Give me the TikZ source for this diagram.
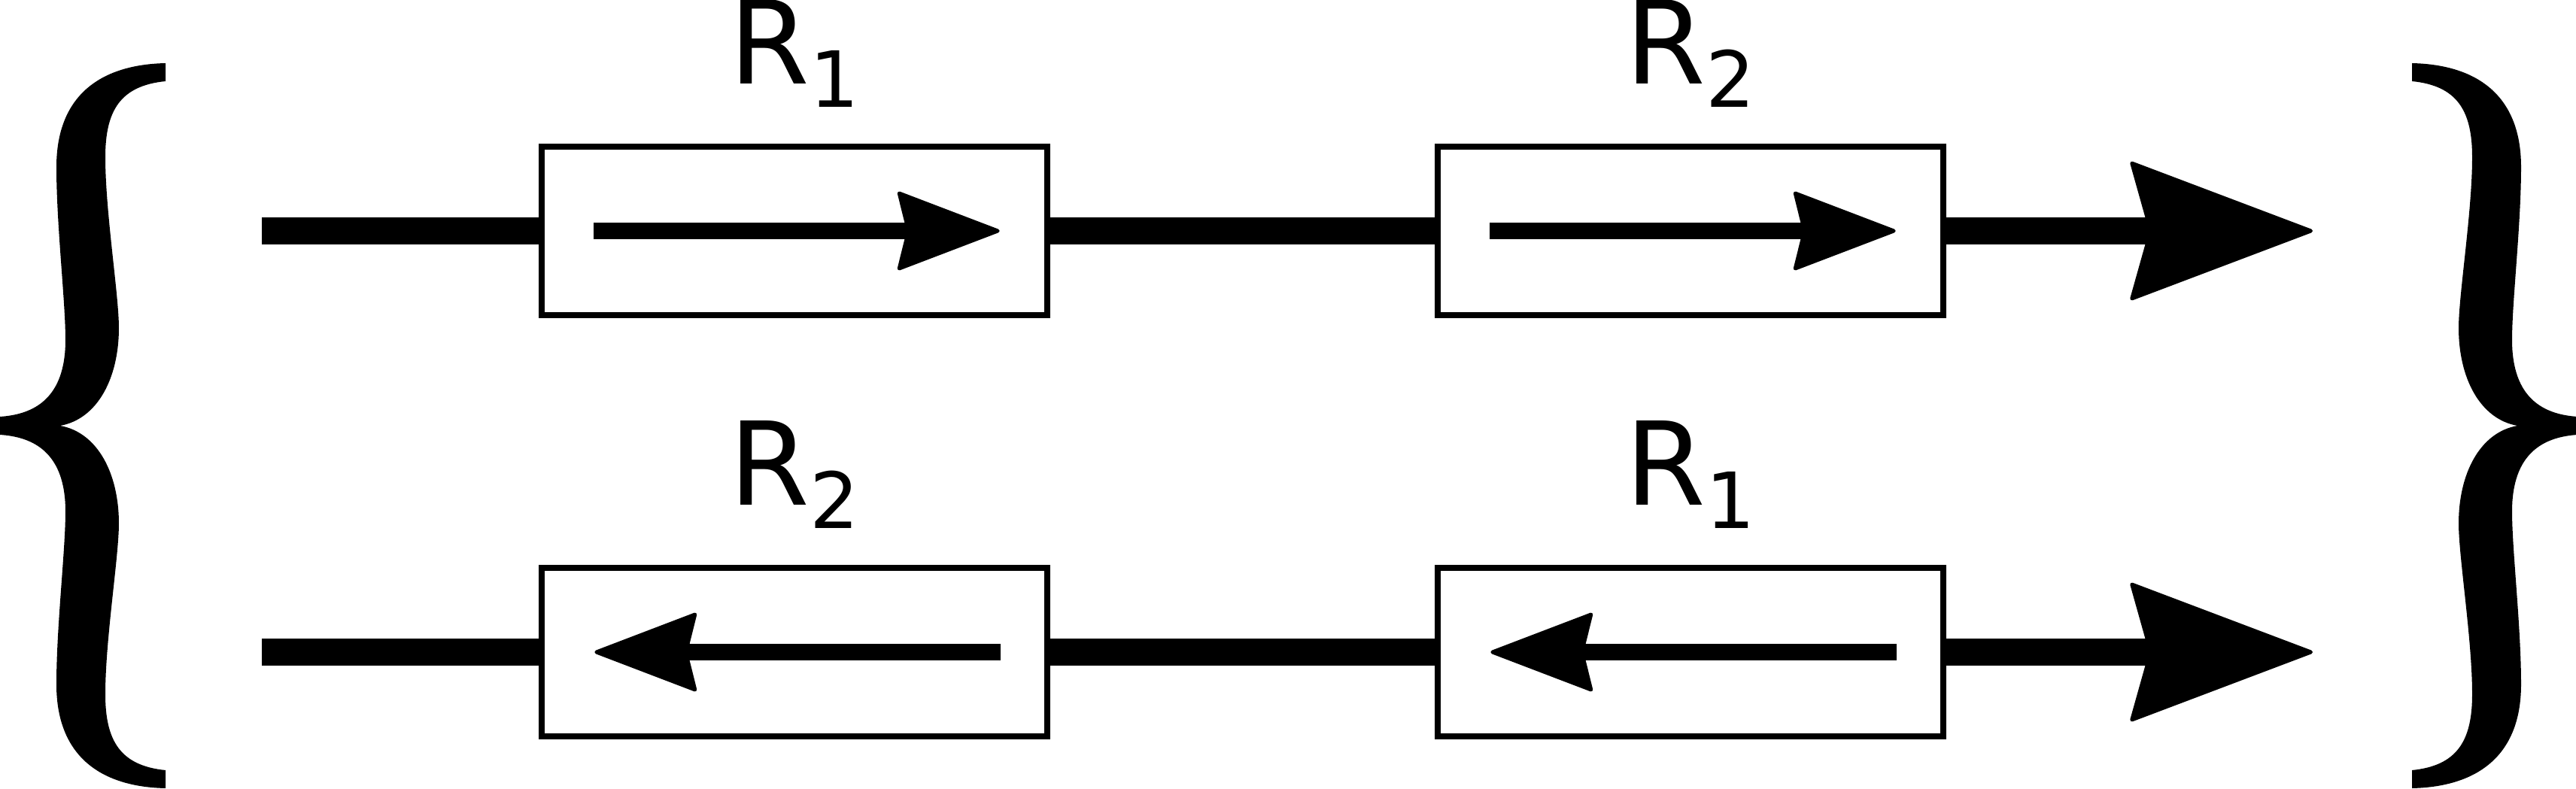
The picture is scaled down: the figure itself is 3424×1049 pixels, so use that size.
\documentclass[tikz,border=0pt]{standalone}
\usepackage{fontspec}
\setmainfont{DejaVu Sans}
\usetikzlibrary{arrows.meta,positioning}

\newcommand\subsz{\fontsize{29.3pt}{30pt}\selectfont}

\begin{document}
\begin{tikzpicture}[x=0.01cm, y=-0.01cm,
    box/.style={draw, fill=white, line width=0.08cm, minimum width=6.71cm, minimum height=2.24cm},
    flow/.style={line width=0.36cm},
    bigtip/.style={-{Stealth[length=2.48cm, width=1.87cm, inset=0.26cm, round, line width=0.5mm]}},
    inner/.style={line width=0.21cm, -{Stealth[length=1.41cm, width=1.07cm, inset=0.13cm, round, line width=0.5mm]}},
    lbl/.style={inner sep=0pt, outer sep=0pt, font=\fontsize{43.7pt}{50pt}\selectfont}]
\useasboundingbox (0,0) rectangle (3424,1049);

% the two braces
\foreach \sh/\s in {0cm/1, 34.24cm/-1} {
  \begin{scope}[xshift=\sh, xscale=\s]
    \fill (220,84) .. controls (130,86) and (75,130) .. (75,222)
      .. controls (75,300) and (87,400) .. (87,452)
      .. controls (87,530) and (45,551) .. (0,554) -- (0,578)
      .. controls (45,581) and (87,602) .. (87,680)
      .. controls (87,732) and (75,832) .. (75,910)
      .. controls (75,1002) and (130,1046) .. (220,1048) -- (220,1024)
      .. controls (160,1018) and (140,985) .. (140,923)
      .. controls (140,850) and (158,740) .. (158,696)
      .. controls (158,630) and (130,575) .. (80,566)
      .. controls (130,557) and (158,502) .. (158,436)
      .. controls (158,392) and (140,282) .. (140,209)
      .. controls (140,147) and (160,114) .. (220,108) -- cycle;
  \end{scope}
}

% boxes
\node[box] (r1a) at (1056,307) {};
\node[box] (r2a) at (2247,307) {};
\node[box] (r2b) at (1056,867) {};
\node[box] (r1b) at (2247,867) {};

\node[lbl, above=0.48cm of r1a] (l1a) {R\raisebox{-0.31cm}{\subsz 1}};
\node[lbl, above=0.48cm of r2a] (l2a) {R\raisebox{-0.31cm}{\subsz 2}};
\node[lbl, above=0.48cm of r2b] (l2b) {R\raisebox{-0.31cm}{\subsz 2}};
\node[lbl, above=0.48cm of r1b] (l1b) {R\raisebox{-0.31cm}{\subsz 1}};

% main lines
\coordinate (inA) at (348,307);
\coordinate (outA) at (3074,307);
\coordinate (inB) at (348,867);
\coordinate (outB) at (3074,867);

\draw[flow] (inA) -- (r1a);
\draw[flow] (r1a) -- (r2a);
\draw[flow, bigtip] (r2a) -- (outA);
\draw[flow] (inB) -- (r2b);
\draw[flow] (r2b) -- (r1b);
\draw[flow, bigtip] (r1b) -- (outB);

% arrows inside the boxes
\draw[inner] ([xshift=0.73cm]r1a.west) -- ([xshift=-0.67cm]r1a.east);
\draw[inner] ([xshift=0.73cm]r2a.west) -- ([xshift=-0.67cm]r2a.east);
\draw[inner] ([xshift=-0.66cm]r2b.east) -- ([xshift=0.74cm]r2b.west);
\draw[inner] ([xshift=-0.66cm]r1b.east) -- ([xshift=0.74cm]r1b.west);
\end{tikzpicture}
\end{document}
